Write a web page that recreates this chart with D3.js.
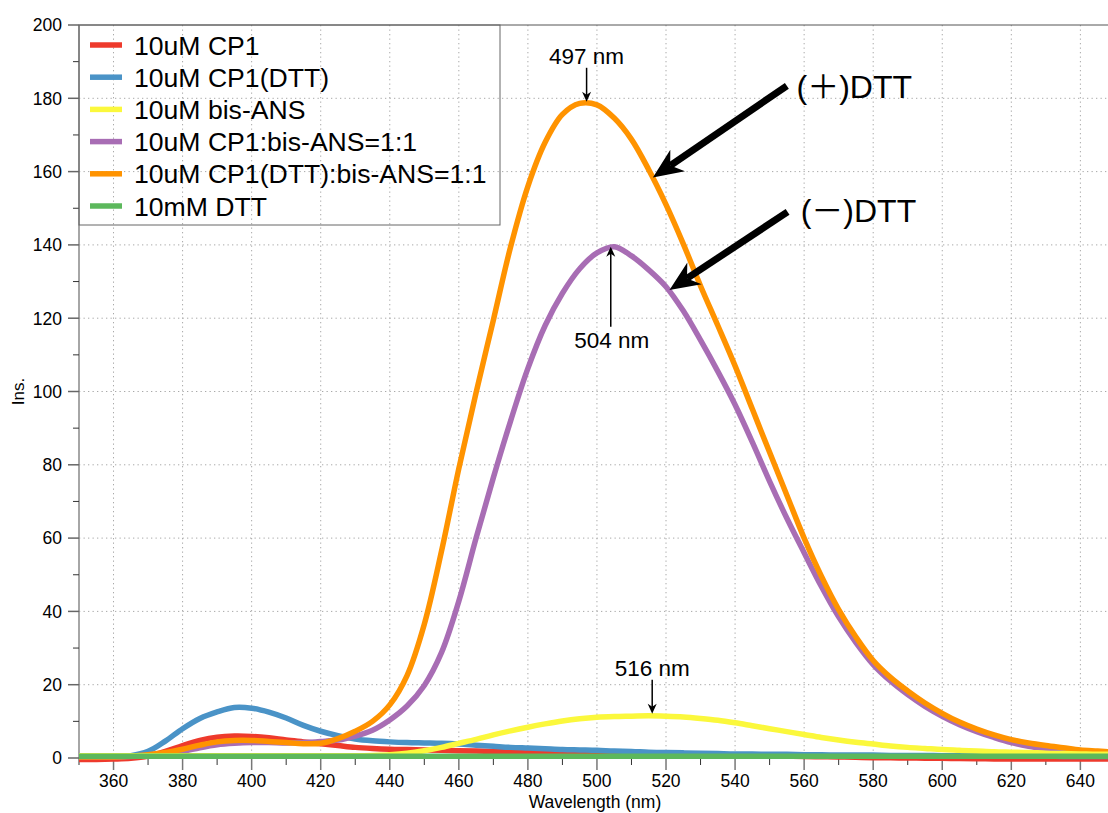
<!DOCTYPE html>
<html>
<head>
<meta charset="utf-8">
<script src="https://cdn.jsdelivr.net/npm/d3@7"></script>
<style>
  body { margin: 0; background: #fff; }
  svg { display: block; font-family: "Liberation Sans", Arial, "Noto Sans CJK SC", sans-serif; }
</style>
</head>
<body>
<svg id="chart" width="1108" height="813"></svg>
<script>
// wavelength (nm), 5 nm steps
const wavelengths = [
  350,355,360,365,370,375,380,385,390,395,
  400,405,410,415,420,425,430,435,440,445,
  450,455,460,465,470,475,480,485,490,495,
  500,505,510,515,520,525,530,535,540,545,
  550,555,560,565,570,575,580,585,590,595,
  600,605,610,615,620,625,630,635,640,645,
  650
];

const cp1 = [
  -0.4,-0.4,-0.3,-0.1,0.5,1.8,3.4,4.8,5.7,6.0,
  5.9,5.5,4.9,4.4,3.9,3.4,2.9,2.6,2.4,2.3,
  2.2,2.1,2.0,1.9,1.8,1.7,1.7,1.6,1.5,1.5,
  1.4,1.35,1.3,1.2,1.1,1.05,1.0,0.9,0.8,0.7,
  0.6,0.5,0.4,0.35,0.3,0.2,0.1,0.05,0.0,-0.05,
  -0.1,-0.15,-0.2,-0.25,-0.3,-0.3,-0.3,-0.3,-0.3,-0.3,
  -0.3
];

const cp1Dtt = [
  0.3,0.3,0.3,0.6,1.8,4.6,8.0,10.8,12.6,13.8,
  13.6,12.5,10.9,8.9,7.3,6.1,5.2,4.7,4.4,4.2,
  4.1,4.0,3.8,3.5,3.2,2.9,2.7,2.5,2.3,2.2,
  2.1,1.9,1.8,1.6,1.5,1.4,1.3,1.2,1.1,1.1,
  1.0,1.0,0.9,0.9,0.8,0.8,0.8,0.7,0.7,0.7,
  0.6,0.6,0.6,0.5,0.5,0.5,0.5,0.4,0.4,0.4,
  0.4
];

const bisAns = [
  0.6,0.6,0.6,0.6,0.6,0.6,0.6,0.6,0.6,0.6,
  0.6,0.6,0.6,0.6,0.6,0.6,0.6,0.7,0.9,1.3,
  2.0,2.9,4.0,5.1,6.3,7.4,8.4,9.3,10.1,10.7,
  11.1,11.3,11.4,11.5,11.4,11.2,10.8,10.3,9.6,8.8,
  8.0,7.2,6.4,5.6,4.9,4.3,3.8,3.3,2.9,2.6,
  2.3,2.1,1.9,1.7,1.6,1.5,1.3,1.2,1.1,1.0,
  1.0
];

const cp1BisAns = [
  0.3,0.3,0.3,0.4,0.7,1.2,1.8,2.8,3.6,4.0,
  4.2,4.2,4.1,4.2,4.5,4.9,6.0,7.6,10.4,14.2,
  19.8,28.8,42.8,60.0,76.5,92.0,106.3,118.0,126.8,133.5,
  137.8,139.5,137.0,133.2,128.6,122.0,114.0,105.5,96.4,86.2,
  75.5,65.4,56.0,46.8,38.5,31.5,25.5,21.0,17.3,14.1,
  11.4,9.1,7.2,5.6,4.2,3.2,2.4,1.7,1.1,0.6,
  0.4
];

const cp1DttBisAns = [
  0.3,0.3,0.3,0.5,0.9,1.5,2.4,3.5,4.4,4.8,
  4.8,4.5,4.2,3.9,4.0,5.3,7.3,10.0,14.5,22.5,
  36.5,56.5,79.0,99.7,119.5,139.5,156.0,168.0,175.6,178.6,
  178.2,174.6,168.8,160.5,151.0,140.3,128.8,118.0,107.0,95.2,
  83.4,71.7,60.0,49.6,40.5,33.0,26.6,22.0,18.3,15.0,
  12.2,9.8,7.9,6.3,5.0,4.1,3.4,2.8,2.2,1.9,
  1.6
];

const dtt = [
  0.5,0.5,0.5,0.5,0.5,0.5,0.5,0.5,0.5,0.5,
  0.5,0.5,0.5,0.5,0.5,0.5,0.5,0.5,0.5,0.5,
  0.5,0.5,0.5,0.5,0.5,0.5,0.5,0.5,0.5,0.5,
  0.5,0.5,0.5,0.5,0.5,0.5,0.5,0.5,0.5,0.5,
  0.5,0.5,0.5,0.5,0.5,0.5,0.5,0.5,0.5,0.5,
  0.5,0.5,0.5,0.5,0.5,0.5,0.5,0.5,0.5,0.5,
  0.5
];

const seriesNames = [
  "10uM CP1", "10uM CP1(DTT)", "10uM bis-ANS",
  "10uM CP1:bis-ANS=1:1", "10uM CP1(DTT):bis-ANS=1:1", "10mM DTT"
];
const seriesValues = [cp1, cp1Dtt, bisAns, cp1BisAns, cp1DttBisAns, dtt];
const seriesColors = ["#ee3a2c", "#4a93c7", "#fbf83c", "#a86db4", "#ff9300", "#5cb85c"];

const xTicks = [360,380,400,420,440,460,480,500,520,540,560,580,600,620,640];
const yTicks = [0,20,40,60,80,100,120,140,160,180,200];

// peak labels: wavelength, peak value, label
const peaks = [
  { nm: 497, v: 178.5, label: "497 nm", side: "above" },
  { nm: 504, v: 139.5, label: "504 nm", side: "below" },
  { nm: 516, v: 11.5, label: "516 nm", side: "above" }
];
// callouts: tail point, tip point, label (data units)
const callouts = [
  { label: "(＋)DTT", tail: [555, 183.4], tip: [516.2, 158.4], text: [557.8, 180.1] },
  { label: "(－)DTT", tail: [555.2, 149], tip: [521, 127.7], text: [559, 146.2] }
];

const margin = { top: 25, right: 0, bottom: 55, left: 79 };
const W = 1108, H = 813;
const width = W - margin.left - margin.right;
const height = H - margin.top - margin.bottom;

const svg = d3.select("#chart");
const g = svg.append("g").attr("transform", `translate(${margin.left},${margin.top})`);

const x = d3.scaleLinear().domain([350, 648]).range([0, width]);
const y = d3.scaleLinear().domain([0, 200]).range([height, 0]);

// grid
g.append("g")
  .selectAll("line")
  .data(xTicks)
  .enter()
  .append("line")
  .attr("x1", d => x(d)).attr("x2", d => x(d))
  .attr("y1", 0).attr("y2", height)
  .attr("stroke", "#a8a8a8").attr("stroke-dasharray", "1.3,3.2");
g.append("g")
  .selectAll("line")
  .data(yTicks.filter(d => d > 0 && d < 200))
  .enter()
  .append("line")
  .attr("x1", 0).attr("x2", width)
  .attr("y1", d => y(d)).attr("y2", d => y(d))
  .attr("stroke", "#a8a8a8").attr("stroke-dasharray", "1.3,3.2");

// frame top
g.append("line").attr("x1", 0).attr("x2", width).attr("y1", 0).attr("y2", 0)
  .attr("stroke", "#555").attr("stroke-width", 1);

// axes
const xMinor = d3.range(370, 650, 20).concat([350]);
const yMinor = d3.range(10, 200, 20);

const xAxis = g.append("g").attr("transform", `translate(0,${height})`);
xAxis.append("line").attr("x1", 0).attr("x2", width).attr("stroke", "#888").attr("stroke-width", 1.5);
xAxis.selectAll(".maj").data(xTicks).enter().append("line")
  .attr("x1", d => x(d)).attr("x2", d => x(d)).attr("y1", 0).attr("y2", 12)
  .attr("stroke", "#777").attr("stroke-width", 1.5);
xAxis.selectAll(".min").data(xMinor).enter().append("line")
  .attr("x1", d => x(d)).attr("x2", d => x(d)).attr("y1", 0).attr("y2", 7)
  .attr("stroke", "#333").attr("stroke-width", 1);
xAxis.selectAll("text").data(xTicks).enter().append("text")
  .attr("x", d => x(d)).attr("y", 29)
  .attr("text-anchor", "middle").attr("font-size", 17.5).attr("fill", "#000")
  .text(d => d);

const yAxis = g.append("g");
yAxis.append("line").attr("x1", 0).attr("x2", 0).attr("y1", 0).attr("y2", height)
  .attr("stroke", "#888").attr("stroke-width", 1.5);
yAxis.selectAll(".maj").data(yTicks).enter().append("line")
  .attr("x1", -11).attr("x2", 0).attr("y1", d => y(d)).attr("y2", d => y(d))
  .attr("stroke", "#666").attr("stroke-width", 1.5);
yAxis.selectAll(".min").data(yMinor).enter().append("line")
  .attr("x1", -6).attr("x2", 0).attr("y1", d => y(d)).attr("y2", d => y(d))
  .attr("stroke", "#333").attr("stroke-width", 1);
yAxis.selectAll("text").data(yTicks).enter().append("text")
  .attr("x", -17).attr("y", d => y(d)).attr("dy", "0.36em")
  .attr("text-anchor", "end").attr("font-size", 17.5).attr("fill", "#000")
  .text(d => d);

// axis titles
svg.append("text")
  .attr("x", margin.left + x(500) - 2).attr("y", 808)
  .attr("text-anchor", "middle").attr("font-size", 17.5)
  .text("Wavelength (nm)");
svg.append("text")
  .attr("transform", `translate(24,${margin.top + y(100)}) rotate(-90)`)
  .attr("text-anchor", "middle").attr("font-size", 17)
  .text("Ins.");

// clip + lines
svg.append("defs").append("clipPath").attr("id", "clip")
  .append("rect").attr("x", 0).attr("y", -5).attr("width", width).attr("height", height + 10);

const line = d3.line()
  .x(d => x(d[0]))
  .y(d => y(d[1]))
  .curve(d3.curveCatmullRom.alpha(0.5));

const order = [0, 1, 3, 4, 2, 5];
g.append("g").attr("clip-path", "url(#clip)")
  .selectAll("path")
  .data(order)
  .enter()
  .append("path")
  .attr("d", i => line(wavelengths.map((w, k) => [w, seriesValues[i][k]])))
  .attr("fill", "none")
  .attr("stroke", i => seriesColors[i])
  .attr("stroke-width", 5.5)
  .attr("stroke-linejoin", "round");

// legend
const legend = g.append("g");
legend.append("rect")
  .attr("x", 0).attr("y", 0).attr("width", 421).attr("height", 200)
  .attr("fill", "none").attr("stroke", "#666").attr("stroke-width", 1);
const item = legend.selectAll(".item").data(seriesNames).enter().append("g")
  .attr("transform", (d, i) => `translate(0,${20 + i * 32.2})`);
item.append("line")
  .attr("x1", 11).attr("x2", 43).attr("y1", 0).attr("y2", 0)
  .attr("stroke", (d, i) => seriesColors[i]).attr("stroke-width", 5.5);
item.append("text")
  .attr("x", 55).attr("y", 0).attr("dy", "0.36em")
  .attr("font-size", 26.6).attr("fill", "#000")
  .text(d => d);

// arrowheads with a swept-back notch
function arrowHead(sel, tipX, tipY, angle, len, half, color) {
  const ca = Math.cos(angle), sa = Math.sin(angle);
  const pt = (u, v) => [tipX - u * ca + v * sa, tipY - u * sa - v * ca];
  const p = [pt(0, 0), pt(len, half), pt(len * 0.7, 0), pt(len, -half)];
  sel.append("path")
    .attr("d", "M" + p.map(q => q.join(",")).join("L") + "Z")
    .attr("fill", color);
}

peaks.forEach(p => {
  const px = x(p.nm), tipY = y(p.v);
  let y0, textY, tip;
  if (p.side === "above") {
    tip = tipY - 2;
    y0 = tip - 34;
    textY = y0 - 4;
    g.append("line").attr("x1", px).attr("x2", px).attr("y1", y0).attr("y2", tip - 4)
      .attr("stroke", "#000").attr("stroke-width", 1.5);
    arrowHead(g, px, tip, Math.PI / 2, 10, 4.5, "#000");
  } else {
    tip = tipY;
    y0 = tip + 80;
    textY = y0 + 21;
    g.append("line").attr("x1", px).attr("x2", px).attr("y1", y0).attr("y2", tip + 4)
      .attr("stroke", "#000").attr("stroke-width", 1.5);
    arrowHead(g, px, tip, -Math.PI / 2, 10, 4.5, "#000");
  }
  g.append("text").attr("x", px + (p.side === "below" ? 1 : 0)).attr("y", textY)
    .attr("text-anchor", "middle").attr("font-size", 22.5)
    .text(p.label);
});

// big callout arrows
callouts.forEach(c => {
  const tx = x(c.tail[0]), ty = y(c.tail[1]);
  const hx = x(c.tip[0]), hy = y(c.tip[1]);
  const ang = Math.atan2(hy - ty, hx - tx);
  const len = 30;
  g.append("line")
    .attr("x1", tx).attr("y1", ty)
    .attr("x2", hx - Math.cos(ang) * len * 0.7).attr("y2", hy - Math.sin(ang) * len * 0.7)
    .attr("stroke", "#000").attr("stroke-width", 7);
  arrowHead(g, hx, hy, ang, len, 13, "#000");
  g.append("text").attr("x", x(c.text[0])).attr("y", y(c.text[1]))
    .attr("font-size", 32).attr("fill", "#000")
    .text(c.label);
});
</script>
</body>
</html>
